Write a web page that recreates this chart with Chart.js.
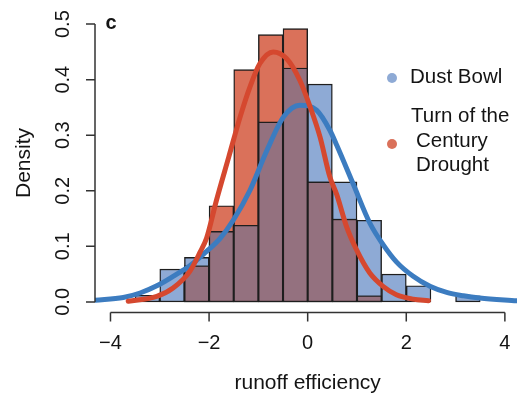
<!DOCTYPE html>
<html>
<head>
<meta charset="utf-8">
<script src="https://cdn.jsdelivr.net/npm/chart.js@4/dist/chart.umd.min.js"></script>
<style>
  html, body { margin: 0; padding: 0; background: #fff; }
  canvas { display: block; }
</style>
</head>
<body>
<canvas id="densityChart" width="517" height="395"></canvas>
<script>
// Histogram bins: centres of 0.5-wide bins and their densities
const dustBowlBins = [-3.25, -2.75, -2.25, -1.75, -1.25, -0.75, -0.25, 0.25, 0.75, 1.25, 1.75, 2.25, 2.75, 3.25];
const dustBowlDensity = [0.012, 0.059, 0.080, 0.127, 0.138, 0.324, 0.421, 0.392, 0.216, 0.147, 0.050, 0.029, 0, 0.011];
const droughtBins = [-2.25, -1.75, -1.25, -0.75, -0.25, 0.25, 0.75, 1.25];
const droughtDensity = [0.065, 0.173, 0.418, 0.481, 0.492, 0.216, 0.149, 0.011];

// Fitted density curves
const dustBowlCurveX = [-4.31, -3.74, -3.40, -3.06, -2.73, -2.39, -2.05, -1.78, -1.51, -1.17, -0.83, -0.49, -0.16, 0.18, 0.45, 0.59, 0.92, 1.26, 1.53, 1.80, 2.14, 2.48, 2.82, 3.16, 3.49, 4.24];
const dustBowlCurveY = [0.003, 0.008, 0.016, 0.029, 0.046, 0.065, 0.091, 0.114, 0.147, 0.201, 0.272, 0.333, 0.354, 0.345, 0.309, 0.282, 0.213, 0.142, 0.103, 0.072, 0.046, 0.028, 0.017, 0.011, 0.007, 0.002];
const droughtCurveX = [-3.64, -3.06, -2.73, -2.39, -2.18, -2.05, -1.85, -1.60, -1.37, -1.17, -0.97, -0.70, -0.43, -0.16, 0.05, 0.25, 0.45, 0.59, 0.79, 0.99, 1.26, 1.53, 1.80, 2.14, 2.45];
const droughtCurveY = [0.001, 0.010, 0.025, 0.055, 0.090, 0.115, 0.183, 0.261, 0.333, 0.387, 0.429, 0.450, 0.438, 0.399, 0.351, 0.297, 0.225, 0.193, 0.135, 0.094, 0.052, 0.028, 0.013, 0.005, 0.002];

// Axes
const xTicks = [-4, -2, 0, 2, 4];
const xTickLabels = ['\u22124', '\u22122', '0', '2', '4'];
const yTicks = [0, 0.1, 0.2, 0.3, 0.4, 0.5];
const yTickLabels = ['0.0', '0.1', '0.2', '0.3', '0.4', '0.5'];
const xTitle = 'runoff efficiency';
const yTitle = 'Density';
const panelLabel = 'c';
const legendDustBowl = ['Dust Bowl'];
const legendDrought = ['Turn of the', 'Century', 'Drought'];

const BLUE_BAR = '#8eaad5';
const RED_BAR = '#da715a';
const MIX_BAR = '#94717f';
const BLUE_LINE = '#3c7cc0';
const RED_LINE = '#d5482f';
const INK = '#141414';
const FONT = '"Liberation Sans", Arial, Helvetica, sans-serif';

const toPoints = (xs, ys) => xs.map((x, i) => ({ x: x, y: ys[i] }));

// Where both histograms share a bin, the lower bar is the overlap
const overlapPoints = dustBowlBins.map((x, i) => {
    const j = droughtBins.indexOf(x);
    return { x: x, y: j < 0 ? 0 : Math.min(dustBowlDensity[i], droughtDensity[j]) };
}).filter(p => p.y > 0);

// R-style axes, titles and legend
const baseAxes = {
    id: 'baseAxes',
    afterDraw(chart) {
        const { ctx, chartArea, scales: { x, y } } = chart;
        ctx.save();
        ctx.strokeStyle = '#333';
        ctx.lineWidth = 1.5;
        ctx.fillStyle = INK;

        // y axis
        const ax = chartArea.left;
        ctx.beginPath();
        ctx.moveTo(ax, y.getPixelForValue(yTicks[0]));
        ctx.lineTo(ax, y.getPixelForValue(yTicks[yTicks.length - 1]));
        yTicks.forEach(v => {
            const py = y.getPixelForValue(v);
            ctx.moveTo(ax, py);
            ctx.lineTo(ax - 9, py);
        });
        // x axis
        const ay = chartArea.bottom - 0.5;
        ctx.moveTo(x.getPixelForValue(xTicks[0]), ay);
        ctx.lineTo(x.getPixelForValue(xTicks[xTicks.length - 1]), ay);
        xTicks.forEach(v => {
            const px = x.getPixelForValue(v);
            ctx.moveTo(px, ay);
            ctx.lineTo(px, ay + 9);
        });
        ctx.stroke();

        ctx.font = '20px ' + FONT;
        ctx.textAlign = 'center';
        ctx.textBaseline = 'middle';
        xTicks.forEach((v, i) => {
            ctx.fillText(xTickLabels[i], x.getPixelForValue(v), ay + 31);
        });
        yTicks.forEach((v, i) => {
            ctx.save();
            ctx.translate(ax - 32, y.getPixelForValue(v));
            ctx.rotate(-Math.PI / 2);
            ctx.fillText(yTickLabels[i], 0, 0);
            ctx.restore();
        });

        ctx.font = '21px ' + FONT;
        ctx.fillText(xTitle, x.getPixelForValue(0), 383);
        ctx.save();
        ctx.translate(24, (y.getPixelForValue(0) + y.getPixelForValue(0.5)) / 2);
        ctx.rotate(-Math.PI / 2);
        ctx.fillText(yTitle, 0, 0);
        ctx.restore();

        ctx.font = 'bold 20px ' + FONT;
        ctx.fillText(panelLabel, 111, 23);

        // legend
        ctx.font = '20.5px ' + FONT;
        ctx.textAlign = 'left';
        ctx.fillStyle = BLUE_BAR;
        ctx.beginPath();
        ctx.arc(392, 78, 5, 0, Math.PI * 2);
        ctx.fill();
        ctx.fillStyle = RED_BAR;
        ctx.beginPath();
        ctx.arc(392, 144, 5, 0, Math.PI * 2);
        ctx.fill();
        ctx.fillStyle = INK;
        ctx.fillText(legendDustBowl[0], 410, 77);
        ctx.fillText(legendDrought[0], 411, 116);
        ctx.fillText(legendDrought[1], 416, 141);
        ctx.fillText(legendDrought[2], 416, 165);
        ctx.restore();
    }
};

const barStyle = {
    type: 'bar',
    grouped: false,
    barPercentage: 1,
    categoryPercentage: 1,
    borderWidth: 1.4,
    borderColor: '#1e1e1e',
    borderSkipped: false
};

const lineStyle = {
    type: 'line',
    borderWidth: 5,
    pointRadius: 0,
    fill: false,
    cubicInterpolationMode: 'monotone',
    borderCapStyle: 'round',
    borderJoinStyle: 'round'
};

new Chart(document.getElementById('densityChart'), {
    type: 'bar',
    data: {
        datasets: [
            { ...barStyle, label: 'Dust Bowl', data: toPoints(dustBowlBins, dustBowlDensity), backgroundColor: BLUE_BAR, order: 5 },
            { ...barStyle, label: 'Turn of the Century Drought', data: toPoints(droughtBins, droughtDensity), backgroundColor: RED_BAR, order: 4 },
            { ...barStyle, label: 'overlap', data: overlapPoints, backgroundColor: MIX_BAR, order: 3 },
            { ...lineStyle, label: 'Dust Bowl fit', data: toPoints(dustBowlCurveX, dustBowlCurveY), borderColor: BLUE_LINE, order: 2 },
            { ...lineStyle, label: 'Drought fit', data: toPoints(droughtCurveX, droughtCurveY), borderColor: RED_LINE, order: 1 }
        ]
    },
    options: {
        responsive: false,
        animation: false,
        layout: { padding: { left: 95, right: 0, top: 13, bottom: 82 } },
        plugins: { legend: { display: false }, tooltip: { enabled: false } },
        scales: {
            x: {
                type: 'linear',
                display: false,
                offset: false,
                min: -4.314,
                max: 4.246,
                ticks: { stepSize: 1, includeBounds: false }
            },
            y: {
                type: 'linear',
                display: false,
                min: -0.02,
                max: 0.52
            }
        }
    },
    plugins: [baseAxes]
});
</script>
</body>
</html>
